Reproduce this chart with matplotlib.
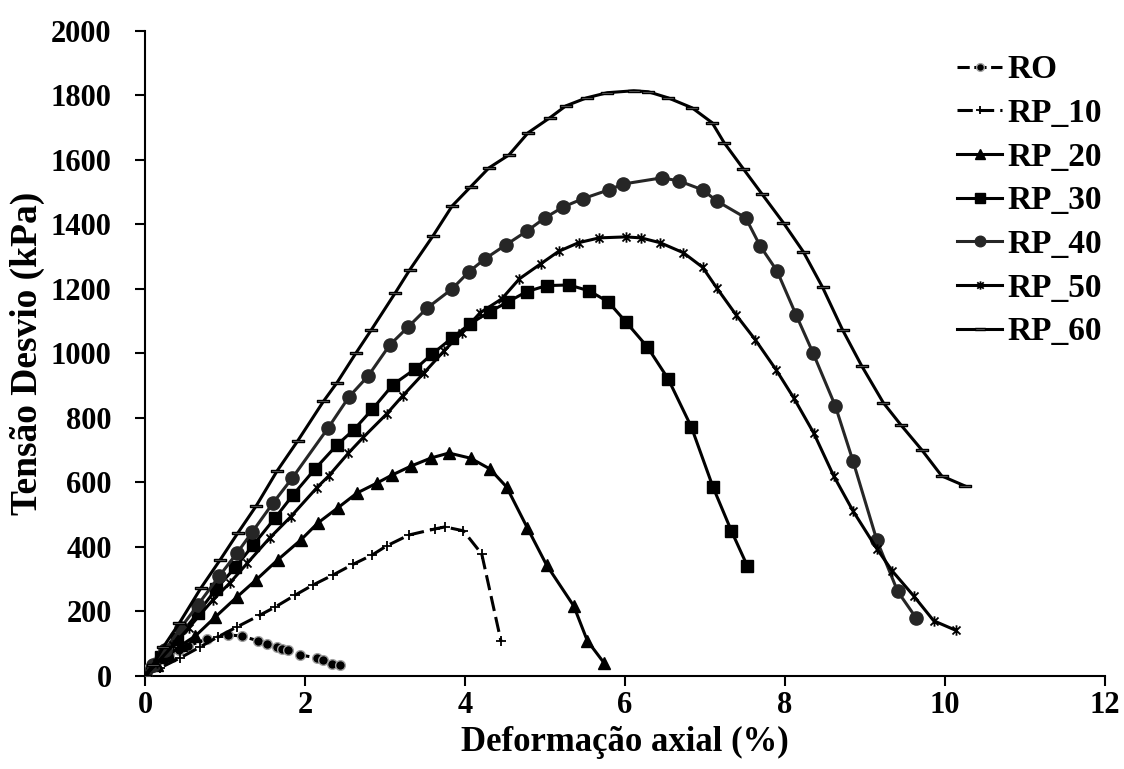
import matplotlib
matplotlib.use("Agg")
import matplotlib.pyplot as plt
from matplotlib.path import Path

# ---------------- data ----------------
ro_x = [0.0, 0.05, 0.15, 0.3, 0.42, 0.54, 0.78, 1.04, 1.21, 1.41, 1.53, 1.65, 1.71, 1.79, 1.94, 2.15, 2.23, 2.34, 2.44]
ro_y = [0, 25, 45, 65, 80, 93, 115, 127, 124, 109, 99, 90, 84, 81, 65, 56, 50, 37, 34]

rp10_x = [0.0, 0.19, 0.44, 0.69, 0.91, 1.15, 1.44, 1.63, 1.88, 2.1, 2.35, 2.6, 2.84, 3.02, 3.3, 3.63, 3.75, 3.98, 4.21, 4.45]
rp10_y = [0, 25, 56, 90, 121, 152, 189, 214, 251, 282, 313, 346, 375, 403, 437, 456, 462, 450, 378, 108]

rp20_x = [0.0, 0.15, 0.3, 0.45, 0.63, 0.88, 1.15, 1.39, 1.66, 1.95, 2.16, 2.41, 2.65, 2.9, 3.09, 3.33, 3.58, 3.8, 4.07, 4.31, 4.52, 4.78, 5.02, 5.36, 5.53, 5.74]
rp20_y = [0, 35, 65, 95, 124, 183, 245, 298, 360, 422, 474, 521, 567, 598, 623, 651, 676, 691, 675, 642, 586, 459, 344, 217, 109, 40]

rp30_x = [0.0, 0.2, 0.4, 0.66, 0.89, 1.13, 1.35, 1.63, 1.85, 2.13, 2.4, 2.61, 2.84, 3.1, 3.38, 3.59, 3.84, 4.06, 4.31, 4.54, 4.77, 5.02, 5.3, 5.55, 5.79, 6.01, 6.28, 6.54, 6.83, 7.1, 7.33, 7.53]
rp30_y = [0, 60, 115, 195, 270, 337, 405, 491, 561, 643, 716, 763, 826, 903, 952, 998, 1048, 1091, 1129, 1160, 1191, 1210, 1212, 1194, 1160, 1098, 1020, 921, 772, 586, 450, 341]

rp40_x = [0.0, 0.1, 0.25, 0.45, 0.66, 0.93, 1.15, 1.34, 1.6, 1.84, 2.29, 2.55, 2.79, 3.06, 3.29, 3.53, 3.84, 4.05, 4.25, 4.51, 4.78, 5.0, 5.23, 5.47, 5.8, 5.98, 6.46, 6.67, 6.97, 7.15, 7.51, 7.69, 7.9, 8.14, 8.35, 8.63, 8.85, 9.15, 9.41, 9.64]
rp40_y = [0, 35, 80, 150, 220, 310, 381, 446, 536, 613, 769, 865, 930, 1026, 1082, 1141, 1200, 1253, 1293, 1336, 1380, 1420, 1454, 1479, 1507, 1525, 1544, 1535, 1507, 1472, 1420, 1333, 1256, 1119, 1002, 837, 667, 420, 262, 180]

rp50_x = [0.0, 0.15, 0.35, 0.55, 0.85, 1.06, 1.28, 1.56, 1.82, 2.15, 2.3, 2.54, 2.73, 3.02, 3.22, 3.49, 3.74, 3.96, 4.19, 4.46, 4.68, 4.95, 5.17, 5.42, 5.68, 6.01, 6.2, 6.44, 6.73, 6.97, 7.15, 7.39, 7.63, 7.89, 8.11, 8.36, 8.61, 8.85, 9.15, 9.34, 9.61, 9.86, 10.14]
rp50_y = [0, 40, 95, 150, 236, 288, 350, 428, 493, 584, 621, 690, 740, 812, 868, 940, 1008, 1064, 1126, 1169, 1231, 1278, 1316, 1343, 1358, 1361, 1358, 1343, 1312, 1267, 1202, 1119, 1042, 949, 862, 753, 620, 512, 394, 326, 248, 171, 141]

rp60_x = [0.0, 0.1, 0.23, 0.43, 0.7, 0.94, 1.16, 1.39, 1.65, 1.91, 2.23, 2.4, 2.64, 2.83, 3.13, 3.31, 3.6, 3.84, 4.07, 4.3, 4.55, 4.79, 5.06, 5.26, 5.52, 5.78, 6.11, 6.29, 6.54, 6.84, 7.09, 7.24, 7.48, 7.71, 7.98, 8.23, 8.47, 8.72, 8.96, 9.23, 9.45, 9.71, 9.96, 10.25]
rp60_y = [0, 35, 90, 164, 273, 360, 443, 527, 635, 729, 851, 909, 1002, 1073, 1188, 1259, 1364, 1457, 1516, 1575, 1615, 1684, 1730, 1767, 1792, 1808, 1814, 1811, 1792, 1761, 1715, 1653, 1572, 1495, 1405, 1315, 1205, 1073, 961, 847, 778, 701, 620, 589]

labels = ["RO", "RP_10", "RP_20", "RP_30", "RP_40", "RP_50", "RP_60"]
x_ticks = [0, 2, 4, 6, 8, 10, 12]
y_ticks = [0, 200, 400, 600, 800, 1000, 1200, 1400, 1600, 1800, 2000]

# ---------------- style ----------------
plt.rcParams['font.family'] = ['Liberation Serif', 'DejaVu Serif']
plt.rcParams['font.weight'] = 'bold'

star = Path([(-1, -1), (1, 1), (-1, 1), (1, -1), (0, -1.3), (0, 1.3)],
            [Path.MOVETO, Path.LINETO, Path.MOVETO, Path.LINETO, Path.MOVETO, Path.LINETO])
bar = Path([(-1, -0.22), (1, -0.22), (1, 0.22), (-1, 0.22), (-1, -0.22)],
           [Path.MOVETO, Path.LINETO, Path.LINETO, Path.LINETO, Path.CLOSEPOLY])
plus = Path([(-1, 0), (1, 0), (0, -1), (0, 1)],
            [Path.MOVETO, Path.LINETO, Path.MOVETO, Path.LINETO])

fig = plt.figure(figsize=(11.24, 7.69), dpi=100)
ax = fig.add_axes([0.129, 0.121, 0.854, 0.839])

lw = 2.2
ax.plot(ro_x, ro_y, color='black', lw=lw, ls=(0, (4, 1.5)), marker='o', ms=7,
        mfc='black', mec='#a0a0a0', mew=1.0, label=labels[0], zorder=3)
ax.plot(rp10_x, rp10_y, color='black', lw=lw, ls=(0, (5, 2)), marker=plus, ms=7,
        mec='black', mew=1.3, label=labels[1], zorder=3)
ax.plot(rp20_x, rp20_y, color='black', lw=lw, marker='^', ms=9,
        mfc='black', mec='black', label=labels[2], zorder=3)
ax.plot(rp30_x, rp30_y, color='black', lw=lw, marker='s', ms=8.5,
        mfc='black', mec='black', label=labels[3], zorder=3)
ax.plot(rp40_x, rp40_y, color='#262626', lw=lw, marker='o', ms=9.5,
        mfc='#262626', mec='#262626', label=labels[4], zorder=3)
ax.plot(rp50_x, rp50_y, color='black', lw=lw, marker=star, ms=7.5,
        mfc='none', mec='black', mew=1.3, label=labels[5], zorder=3)
ax.plot(rp60_x, rp60_y, color='black', lw=lw, marker=bar, ms=9,
        mfc='#808080', mec='black', mew=1.0, label=labels[6], zorder=3)

ax.set_xlim(0, 12)
ax.set_ylim(0, 2000)
ax.set_xticks(x_ticks)
ax.set_yticks(y_ticks)
ax.spines['top'].set_visible(False)
ax.spines['right'].set_visible(False)
for s in ['left', 'bottom']:
    ax.spines[s].set_linewidth(1.5)
ax.tick_params(axis='both', direction='out', length=7, width=1.5, labelsize=22)
ax.tick_params(axis='x', pad=4)
ax.tick_params(axis='y', pad=17)
for t in ax.get_xticklabels() + ax.get_yticklabels():
    t.set_fontweight('bold')

ax.set_xlabel('Deformação axial (%)', fontsize=25, fontweight='bold', labelpad=4)
ax.set_ylabel('Tensão Desvio (kPa)', fontsize=27, fontweight='bold', labelpad=4)

leg = ax.legend(loc='upper left', bbox_to_anchor=(0.815, 1.01), frameon=False,
                prop={'family': 'Liberation Serif', 'weight': 'bold', 'size': 24},
                handlelength=1.35, handletextpad=0.15, labelspacing=0.38,
                markerscale=0.8)

fig.savefig('out.png', dpi=100)
